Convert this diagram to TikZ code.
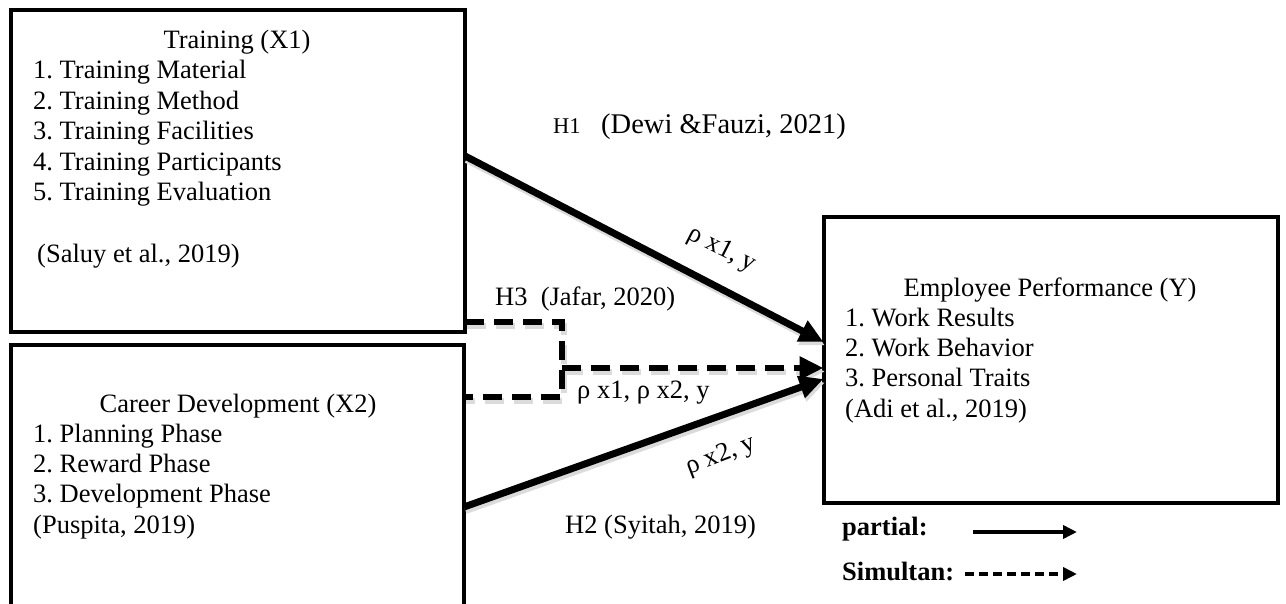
\documentclass[tikz,border=0pt]{standalone}
\usepackage{fontspec}
\setmainfont{Liberation Serif}
\usetikzlibrary{arrows.meta}
\frenchspacing
\tikzset{
  boxnode/.style={draw, line width=4pt, inner sep=0pt, outer sep=0pt},
  txt/.style={inner sep=0pt, anchor=base west, font=\fontsize{26.5}{30.5}\selectfont},
  ctxt/.style={inner sep=0pt, anchor=base, font=\fontsize{26.5}{30.5}\selectfont},
  bigtip/.style={-{Triangle[length=24pt,width=22pt]}},
  thickline/.style={line width=7pt, bigtip},
  dashpat/.style={line width=6pt, dash pattern=on 19pt off 10pt},
  shade/.style={black!14, transform canvas={shift={(1.5,3.5)}}},
  legline/.style={line width=3.5pt, -{Triangle[length=14pt,width=13pt]}},
}
\begin{document}
\begin{tikzpicture}[x=1pt,y=-1pt]
\clip (0,0) rectangle (1286,603);
\fill[white] (0,0) rectangle (1286,603);

% boxes
\node[boxnode, minimum width=454.5pt, minimum height=322pt] (x1) at (237.75,171) {};
\node[boxnode, minimum width=453.5pt, minimum height=295pt] (x2) at (237.25,492.5) {};
\node[boxnode, minimum width=454.5pt, minimum height=286pt] (y) at (1050.75,360) {};

% Training texts
\node[ctxt] (x1t) at (237,48) {Training (X1)};
\foreach \t [count=\i] in {1. Training Material, 2. Training Method, 3. Training Facilities, 4. Training Participants, 5. Training Evaluation}
  \node[txt] (x1l\i) at (33,48+30.5*\i) {\t};
\node[txt] (x1r) at (37,262) {(Saluy et al., 2019)};

% Career texts
\node[ctxt] (x2t) at (238,412) {Career Development (X2)};
\foreach \t [count=\i] in {1. Planning Phase, 2. Reward Phase, 3. Development Phase, {(Puspita, 2019)}}
  \node[txt] (x2l\i) at (33,412+30.3*\i) {\t};

% Employee texts
\node[ctxt] (yt) at (1050,296) {Employee Performance (Y)};
\foreach \t [count=\i] in {1. Work Results, 2. Work Behavior, 3. Personal Traits, {(Adi et al., 2019)}}
  \node[txt] (yl\i) at (845,296+30.3*\i) {\t};

% junction coordinates
\coordinate (j1) at (562,322);
\coordinate (j2) at (562,397);
\coordinate (jm) at (562,368);

% shadows
\draw[shade, line width=7pt, bigtip] (x1.east |- 0,156) -- (y.west |- 0,342);
\draw[shade, line width=7pt, bigtip] (x2.east |- 0,507) -- (y.west |- 0,379);
\draw[shade, dashpat] (x1.east |- j1) -- (j1) -- (j2) -- (x2.east |- j2);
\draw[shade, dashpat, bigtip] (jm) -- (y.west |- jm);

% connectors
\draw[thickline] (x1.east |- 0,156) -- (y.west |- 0,342);
\draw[thickline] (x2.east |- 0,507) -- (y.west |- 0,379);
\draw[dashpat] (x1.east |- j1) -- (j1) -- (j2) -- (x2.east |- j2);
\draw[dashpat, bigtip] (jm) -- (y.west |- jm);

% labels
\node[inner sep=0pt, anchor=base west, font=\fontsize{22.5}{26}\selectfont] (h1) at (553,133) {H1};
\node[inner sep=0pt, anchor=base west, font=\fontsize{28.5}{32}\selectfont] (h1r) at (601,133) {(Dewi \&Fauzi, 2021)};
\node[txt] (h3) at (495,305) {H3\ \ (Jafar, 2020)};
\node[txt] (h2) at (565,533) {H2 (Syitah, 2019)};
\node[ctxt, anchor=center, rotate=-27] (r1) at (722,250) {ρ x1, y};
\node[ctxt, anchor=center, rotate=21] (r2) at (721,456) {ρ x2, y};
\node[txt] (r3) at (577,398) {ρ x1, ρ x2, y};

% legend
\node[txt, font=\fontsize{26.5}{30.5}\selectfont\bfseries] (lp) at (842,535) {partial:};
\node[txt, font=\fontsize{26.5}{30.5}\selectfont\bfseries] (ls) at (842,580) {Simultan:};
\coordinate (lp1) at (973,532);
\coordinate (lp2) at (1077,532);
\coordinate (ls1) at (965,574);
\coordinate (ls2) at (1077,574);
\draw[legline] (lp1) -- (lp2);
\draw[legline, dash pattern=on 9pt off 5pt] (ls1) -- (ls2);
\end{tikzpicture}
\end{document}
